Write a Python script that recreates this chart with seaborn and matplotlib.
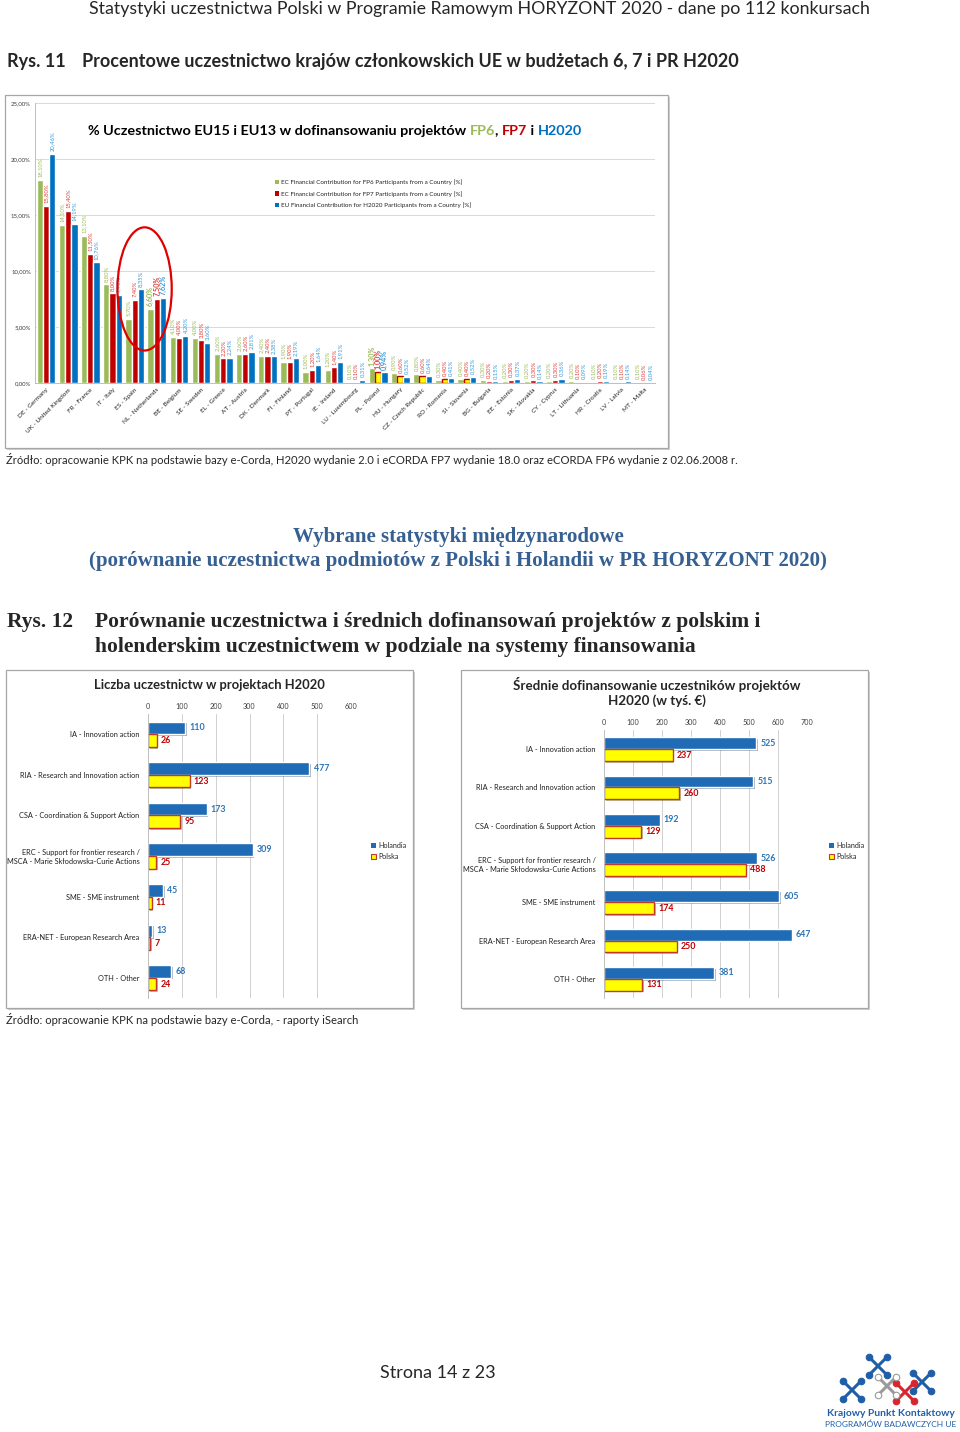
import numpy as np
import pandas as pd
import seaborn as sns
import matplotlib.pyplot as plt
from matplotlib.patches import Rectangle, Ellipse, Patch
from matplotlib import patheffects as pe

W, H = 960, 1432

# --- Rys. 11: udzial krajow w budzetach FP6 / FP7 / H2020 [%] ---
countries = ["DE - Germany", "UK - United Kingdom", "FR - France", "IT - Italy", "ES - Spain",
             "NL - Netherlands", "BE - Belgium", "SE - Sweden", "EL - Greece", "AT - Austria",
             "DK - Denmark", "FI - Finland", "PT - Portugal", "IE - Ireland", "LU - Luxembourg",
             "PL - Poland", "HU - Hungary", "CZ - Czech Republic", "RO - Romania", "SI - Slovenia",
             "BG - Bulgaria", "EE - Estonia", "SK - Slovakia", "CY - Cyprus", "LT - Lithuania",
             "HR - Croatia", "LV - Latvia", "MT - Malta"]
fp6 = [18.10, 14.10, 13.10, 8.80, 5.70, 6.60, 4.10, 4.00, 2.60, 2.60, 2.40, 1.90, 1.00, 1.20,
       0.10, 1.30, 0.90, 0.80, 0.30, 0.40, 0.30, 0.20, 0.20, 0.20, 0.20, 0.10, 0.10, 0.10]
fp7 = [15.80, 15.40, 11.50, 8.00, 7.40, 7.50, 4.00, 3.80, 2.20, 2.60, 2.40, 1.90, 1.20, 1.40,
       0.10, 1.00, 0.60, 0.60, 0.40, 0.40, 0.20, 0.30, 0.30, 0.30, 0.10, 0.20, 0.10, 0.06]
h2020 = [20.46, 14.19, 10.76, 7.90, 8.35, 7.62, 4.20, 3.60, 2.24, 2.81, 2.38, 2.19, 1.64, 1.91,
         0.31, 0.94, 0.52, 0.64, 0.41, 0.52, 0.15, 0.37, 0.14, 0.36, 0.09, 0.19, 0.14, 0.04]
series = ["EC Financial Contribution for FP6 Participants from a Country [%]",
          "EC Financial Contribution for FP7 Participants from a Country [%]",
          "EU Financial Contribution for H2020 Participants from a Country [%]"]
yticks_top = [0, 5, 10, 15, 20, 25]

# --- Rys. 12: Polska vs Holandia ---
types = ["IA - Innovation action", "RIA - Research and Innovation action",
         "CSA - Coordination & Support Action",
         "ERC - Support for frontier research /\nMSCA - Marie Skłodowska-Curie Actions",
         "SME - SME instrument", "ERA-NET - European Research Area", "OTH - Other"]
nl_count = [110, 477, 173, 309, 45, 13, 68]
pl_count = [26, 123, 95, 25, 11, 7, 24]
nl_fund = [525, 515, 192, 526, 605, 647, 381]
pl_fund = [237, 260, 129, 488, 174, 250, 131]

GREEN, RED, BLUE = "#9BBB59", "#C00000", "#0070C0"
NL_BLUE, PL_YELLOW, PL_EDGE = "#1F6BB5", "#FFFF00", "#C0392B"

sns.set_theme(style="white")
plt.rcParams['font.family'] = ['Lato', 'DejaVu Sans']


def rect(x0, y0, x1, y1):
    return [x0 / W, 1 - y1 / H, (x1 - x0) / W, (y1 - y0) / H]


def fx(x):
    return x / W


def fy(y):
    return 1 - y / H


fig = plt.figure(figsize=(W / 100, H / 100), dpi=100)
fig.patch.set_facecolor("white")
renderer = fig.canvas.get_renderer()


def seq_text(x, y, parts, **kw):
    # kolejne kawalki tekstu w roznych kolorach
    for s, c in parts:
        t = fig.text(fx(x), fy(y), s, color=c, ha="left", va="center", **kw)
        bb = t.get_window_extent(renderer=renderer)
        x += bb.width


def box(x0, y0, x1, y1):
    fig.patches.append(Rectangle((fx(x0) + 0.002, fy(y1) - 0.0015), (x1 - x0) / W, (y1 - y0) / H,
                                 transform=fig.transFigure, facecolor="#D0D0D0", edgecolor="none", zorder=-3))
    fig.patches.append(Rectangle((fx(x0), fy(y1)), (x1 - x0) / W, (y1 - y0) / H,
                                 transform=fig.transFigure, facecolor="white", edgecolor="#A6A6A6",
                                 lw=0.9, zorder=-2))


# naglowek strony
fig.text(fx(479), fy(9), "Statystyki uczestnictwa Polski w Programie Ramowym HORYZONT 2020 - dane po 112 konkursach",
         ha="center", va="center", fontsize=12.8)
fig.text(fx(7), fy(62), "Rys. 11", ha="left", va="center", fontsize=13, fontweight="bold")
fig.text(fx(82), fy(62), "Procentowe uczestnictwo krajów członkowskich UE w budżetach 6, 7 i PR H2020",
         ha="left", va="center", fontsize=13, fontweight="bold")

# ---------------- wykres 1 ----------------
box(5, 95, 668, 448)
ax1 = fig.add_axes(rect(35, 103, 655, 383))
ax1.patch.set_alpha(0)
df_top = pd.DataFrame({"kraj": countries * 3, "udzial": fp6 + fp7 + h2020,
                       "program": [series[0]] * 28 + [series[1]] * 28 + [series[2]] * 28})
sns.barplot(data=df_top, x="kraj", y="udzial", hue="program", palette=[GREEN, RED, BLUE],
            width=0.85, saturation=1, ax=ax1, legend=False)
for i in [15, 16, 17, 18, 19]:
    b = ax1.containers[1][i]
    b.set_facecolor(PL_YELLOW)
    b.set_edgecolor(RED)
    b.set_linewidth(1.0)

lab_cols = ["#9BBB59", "#E0403A", "#3A9AD9"]
for ci, cont in enumerate(ax1.containers):
    for i, bar in enumerate(cont):
        v = bar.get_height()
        bold = i in (5, 15)
        ax1.text(bar.get_x() + bar.get_width() / 2, v + 0.25, f"{v:.2f}%".replace(".", ","),
                 rotation=90, ha="center", va="bottom", fontsize=5.2 if bold else 4.2,
                 fontweight="bold" if bold else "normal", color=lab_cols[ci])

ax1.set_ylim(0, 25)
ax1.set_xlim(-0.5, 27.5)
ax1.set_yticks(yticks_top)
ax1.set_yticklabels([f"{v:.2f}%".replace(".", ",") for v in yticks_top], fontsize=4.3, color="#404040")
ax1.set_xticks(range(len(countries)))
ax1.set_xticklabels(countries, rotation=45, ha="right", rotation_mode="anchor", fontsize=4.6, color="#202020")
ax1.tick_params(axis="both", length=0, pad=3)
ax1.yaxis.grid(True, color="#D9D9D9", lw=0.7)
ax1.set_axisbelow(True)
ax1.set_xlabel("")
ax1.set_ylabel("")
for s in ["top", "right"]:
    ax1.spines[s].set_visible(False)
ax1.spines["left"].set_color("#BFBFBF")
ax1.spines["bottom"].set_color("#BFBFBF")
ax1.spines["left"].set_linewidth(0.7)
ax1.spines["bottom"].set_linewidth(0.7)
ax1.add_patch(Ellipse((4.45, 8.4), width=2.45, height=11.0, fill=False, edgecolor="#E00000",
                      lw=1.6, clip_on=False, zorder=5))

h1 = [Patch(facecolor=c, edgecolor="none") for c in [GREEN, RED, BLUE]]
ax1.legend(h1, series, loc="upper left", bbox_to_anchor=(0.383, 0.735), frameon=False,
           fontsize=4.5, handlelength=0.7, handleheight=0.7, handletextpad=0.3, labelspacing=0.9,
           borderaxespad=0)

seq_text(88, 131, [("% Uczestnictwo EU15 i EU13 w dofinansowaniu projektów ", "black"),
                   ("FP6", GREEN), (", ", "black"), ("FP7", RED), (" i ", "black"), ("H2020", BLUE)],
         fontsize=10.4, fontweight="bold")

fig.text(fx(6), fy(459), "Źródło: opracowanie KPK na podstawie bazy e-Corda, H2020 wydanie 2.0 i eCORDA FP7 "
         "wydanie 18.0 oraz eCORDA FP6 wydanie z 02.06.2008 r.", ha="left", va="center", fontsize=8.1)

# ---------------- sekcja 2 ----------------
serif = ["Liberation Serif", "DejaVu Serif"]
fig.text(fx(458), fy(537), "Wybrane statystyki międzynarodowe", ha="center", va="center",
         fontsize=15, fontweight="bold", color="#376092", family=serif)
fig.text(fx(458), fy(561), "(porównanie uczestnictwa podmiotów z Polski i Holandii w PR HORYZONT 2020)",
         ha="center", va="center", fontsize=15, fontweight="bold", color="#376092", family=serif)
fig.text(fx(7), fy(622), "Rys. 12", ha="left", va="center", fontsize=15.5, fontweight="bold", family=serif)
fig.text(fx(95), fy(622), "Porównanie uczestnictwa i średnich dofinansowań projektów z polskim i",
         ha="left", va="center", fontsize=15.5, fontweight="bold", family=serif)
fig.text(fx(95), fy(647), "holenderskim uczestnictwem w podziale na systemy finansowania",
         ha="left", va="center", fontsize=15.5, fontweight="bold", family=serif)


def bottom_chart(px, nl, pl, xmax, leg_x):
    ax = fig.add_axes(rect(*px))
    ax.patch.set_alpha(0)
    df = pd.DataFrame({"typ": types * 2, "wartosc": nl + pl,
                       "kraj": ["Holandia"] * len(types) + ["Polska"] * len(types)})
    sns.barplot(data=df, x="wartosc", y="typ", hue="kraj", orient="h", palette=[NL_BLUE, PL_YELLOW],
                width=0.62, saturation=1, ax=ax, legend=False)
    for b in ax.containers[1]:
        b.set_edgecolor(PL_EDGE)
        b.set_linewidth(1.0)
    for cont in ax.containers:
        for b in cont:
            b.set_path_effects([pe.SimplePatchShadow(offset=(1.2, -1.2), alpha=0.35), pe.Normal()])
    ax.bar_label(ax.containers[0], labels=[str(v) for v in nl], padding=3, fontsize=6.4,
                 fontweight="bold", color="#2E75B6")
    ax.bar_label(ax.containers[1], labels=[str(v) for v in pl], padding=3, fontsize=6.4,
                 fontweight="bold", color="#C00000")
    ax.set_xlim(0, xmax)
    ax.set_xticks(range(0, xmax + 1, 100))
    ax.xaxis.tick_top()
    ax.tick_params(axis="x", labelsize=5.2, colors="#404040", length=0, pad=3)
    ax.tick_params(axis="y", labelsize=5.3, colors="#202020", length=0, pad=6)
    ax.xaxis.grid(True, color="#D0D0D0", lw=0.7)
    ax.set_axisbelow(True)
    ax.set_xlabel("")
    ax.set_ylabel("")
    for s in ["top", "right", "bottom"]:
        ax.spines[s].set_visible(False)
    ax.spines["left"].set_color("#BFBFBF")
    ax.spines["left"].set_linewidth(0.7)
    hh = [Patch(facecolor=NL_BLUE, edgecolor="none"), Patch(facecolor=PL_YELLOW, edgecolor=PL_EDGE, lw=0.8)]
    x0 = px[0]
    ax.legend(hh, ["Holandia", "Polska"], loc="center left",
              bbox_to_anchor=((leg_x - x0) / (px[2] - x0), 1 - (851 - px[1]) / (px[3] - px[1])),
              frameon=False, fontsize=5.2, handlelength=0.7, handleheight=0.7, handletextpad=0.3,
              labelspacing=0.6, borderaxespad=0)
    return ax


box(6, 670, 413, 1008)
bottom_chart((148, 714, 351, 998), nl_count, pl_count, 600, 368)
fig.text(fx(209), fy(685), "Liczba uczestnictw w projektach H2020", ha="center", va="center",
         fontsize=9.4, fontweight="bold")

box(461, 670, 868, 1008)
bottom_chart((604, 730, 807, 998), nl_fund, pl_fund, 700, 826)
fig.text(fx(657), fy(684), "Średnie dofinansowanie uczestników projektów", ha="center", va="center",
         fontsize=9.6, fontweight="bold")
fig.text(fx(657), fy(701), "H2020 (w tyś. €)", ha="center", va="center", fontsize=9.6, fontweight="bold")

fig.text(fx(6), fy(1020), "Źródło: opracowanie KPK na podstawie bazy e-Corda, - raporty iSearch",
         ha="left", va="center", fontsize=8.1)

fig.text(fx(438), fy(1373), "Strona 14 z 23", ha="center", va="center", fontsize=13)

# ---------------- logo ----------------
axl = fig.add_axes(rect(828, 1350, 958, 1408))
axl.set_xlim(828, 958)
axl.set_ylim(1408, 1350)
axl.axis("off")
crosses = [(878, 1366, "#1F5FA8"), (852, 1390, "#1F5FA8"), (922, 1382, "#1F5FA8"),
           (905, 1392, "#D7262E"), (887, 1386, "#FFFFFF")]
for cx, cy, c in crosses:
    ec = "#9A9A9A" if c == "#FFFFFF" else c
    for dx, dy in [(1, 1), (1, -1)]:
        axl.plot([cx - 9 * dx, cx + 9 * dx], [cy - 9 * dy, cy + 9 * dy], color=ec, lw=2.2,
                 solid_capstyle="round", zorder=2)
        axl.scatter([cx - 9 * dx, cx + 9 * dx], [cy - 9 * dy, cy + 9 * dy], s=22, color=c,
                    edgecolors=ec, linewidths=0.8, zorder=3)
fig.text(fx(891), fy(1413), "Krajowy Punkt Kontaktowy", ha="center", va="center", fontsize=7.4,
         fontweight="bold", color="#1F5FA8")
fig.text(fx(891), fy(1424), "PROGRAMÓW BADAWCZYCH UE", ha="center", va="center", fontsize=6.0,
         color="#1F5FA8")

fig.savefig("out.png", dpi=100)
